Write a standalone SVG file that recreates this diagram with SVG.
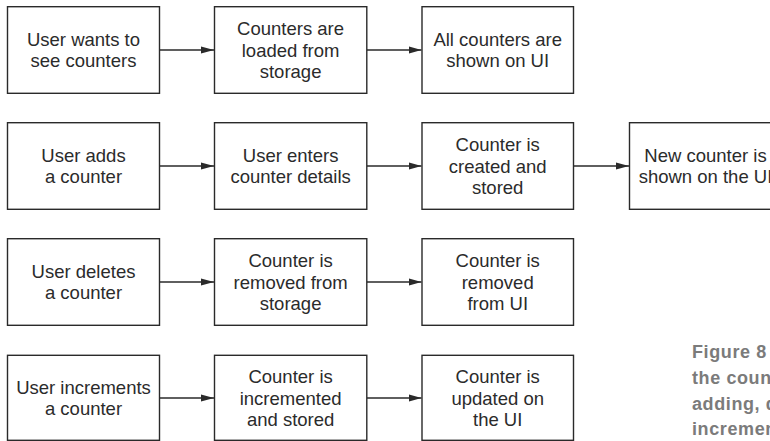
<svg xmlns="http://www.w3.org/2000/svg" width="770" height="441" viewBox="0 0 770 441">
<style>
.box{fill:#fff;stroke:#2a2a2a;stroke-width:1.4}
.t{font-family:"Liberation Sans",Arial,sans-serif;font-size:18.5px;fill:#2b2b2b;text-anchor:middle}
.cap{font-family:"Liberation Sans",Arial,sans-serif;font-size:18px;font-weight:bold;fill:#7b7b7b;letter-spacing:0.6px}
.conn{stroke:#2a2a2a;stroke-width:1.4;fill:none}
</style>
<defs>
<marker id="ah" markerUnits="userSpaceOnUse" markerWidth="14" markerHeight="8" refX="13" refY="4" orient="auto">
<path d="M0,0.4 L13,4 L0,7.6 Z" fill="#2a2a2a"/>
</marker>
</defs>
<rect width="770" height="441" fill="#fff"/>
<g id="connectors">
<line class="conn" x1="159.5" y1="50" x2="214" y2="50" marker-end="url(#ah)"/>
<line class="conn" x1="367" y1="50" x2="421.5" y2="50" marker-end="url(#ah)"/>
<line class="conn" x1="159.5" y1="166" x2="214" y2="166" marker-end="url(#ah)"/>
<line class="conn" x1="367" y1="166" x2="421.5" y2="166" marker-end="url(#ah)"/>
<line class="conn" x1="573.5" y1="166" x2="629" y2="166" marker-end="url(#ah)"/>
<line class="conn" x1="159.5" y1="282" x2="214" y2="282" marker-end="url(#ah)"/>
<line class="conn" x1="367" y1="282" x2="421.5" y2="282" marker-end="url(#ah)"/>
<line class="conn" x1="159.5" y1="398" x2="214" y2="398" marker-end="url(#ah)"/>
<line class="conn" x1="367" y1="398" x2="421.5" y2="398" marker-end="url(#ah)"/>
</g>
<g id="n1"><rect class="box" x="7.5" y="6.7" width="152" height="86.6"/>
<text class="t"><tspan x="83.5" y="45.7">User wants to</tspan><tspan x="83.5" y="67.4">see counters</tspan></text></g>
<g id="n2"><rect class="box" x="214.5" y="6.7" width="152.3" height="86.6"/>
<text class="t"><tspan x="290.6" y="35">Counters are</tspan><tspan x="290.6" y="56.7">loaded from</tspan><tspan x="290.6" y="78.4">storage</tspan></text></g>
<g id="n3"><rect class="box" x="422" y="6.7" width="151.5" height="86.6"/>
<text class="t"><tspan x="497.7" y="45.7">All counters are</tspan><tspan x="497.7" y="67.4">shown on UI</tspan></text></g>

<g id="n4"><rect class="box" x="7.5" y="122.7" width="152" height="86.6"/>
<text class="t"><tspan x="83.5" y="161.7">User adds</tspan><tspan x="83.5" y="183.4">a counter</tspan></text></g>
<g id="n5"><rect class="box" x="214.5" y="122.7" width="152.3" height="86.6"/>
<text class="t"><tspan x="290.6" y="161.7">User enters</tspan><tspan x="290.6" y="183.4">counter details</tspan></text></g>
<g id="n6"><rect class="box" x="422" y="122.7" width="151.5" height="86.6"/>
<text class="t"><tspan x="497.7" y="151">Counter is</tspan><tspan x="497.7" y="172.7">created and</tspan><tspan x="497.7" y="194.4">stored</tspan></text></g>
<g id="n7"><rect class="box" x="629.5" y="122.7" width="152" height="86.6"/>
<text class="t"><tspan x="705.5" y="161.7">New counter is</tspan><tspan x="705.5" y="183.4">shown on the UI</tspan></text></g>

<g id="n8"><rect class="box" x="7.5" y="238.7" width="152" height="86.6"/>
<text class="t"><tspan x="83.5" y="277.7">User deletes</tspan><tspan x="83.5" y="299.4">a counter</tspan></text></g>
<g id="n9"><rect class="box" x="214.5" y="238.7" width="152.3" height="86.6"/>
<text class="t"><tspan x="290.6" y="267">Counter is</tspan><tspan x="290.6" y="288.7">removed from</tspan><tspan x="290.6" y="310.4">storage</tspan></text></g>
<g id="n10"><rect class="box" x="422" y="238.7" width="151.5" height="86.6"/>
<text class="t"><tspan x="497.7" y="267">Counter is</tspan><tspan x="497.7" y="288.7">removed</tspan><tspan x="497.7" y="310.4">from UI</tspan></text></g>

<g id="n11"><rect class="box" x="7.5" y="355.3" width="152" height="85"/>
<text class="t"><tspan x="83.5" y="393.7">User increments</tspan><tspan x="83.5" y="415.4">a counter</tspan></text></g>
<g id="n12"><rect class="box" x="214.5" y="355.3" width="152.3" height="85"/>
<text class="t"><tspan x="290.6" y="383">Counter is</tspan><tspan x="290.6" y="404.7">incremented</tspan><tspan x="290.6" y="426.4">and stored</tspan></text></g>
<g id="n13"><rect class="box" x="422" y="355.3" width="151.5" height="85"/>
<text class="t"><tspan x="497.7" y="383">Counter is</tspan><tspan x="497.7" y="404.7">updated on</tspan><tspan x="497.7" y="426.4">the UI</tspan></text></g>

<g id="caption">
<text class="cap"><tspan x="692" y="358">Figure 8</tspan><tspan x="692" y="384">the coun</tspan><tspan x="692" y="409.5">adding, d</tspan><tspan x="692" y="435">incremen</tspan></text>
</g>
</svg>
